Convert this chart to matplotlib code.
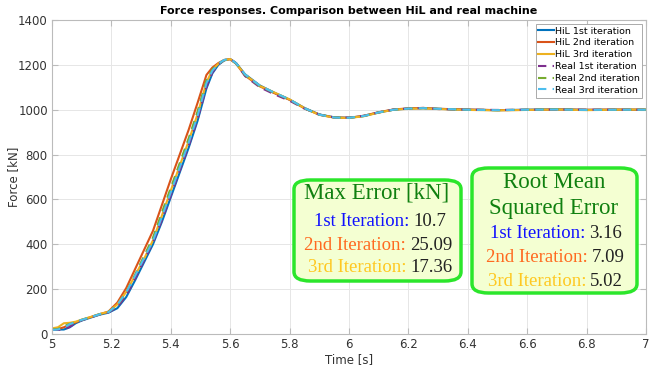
import numpy as np
import matplotlib.pyplot as plt
from matplotlib.patches import FancyBboxPatch

# time base [s]
t = [5.00, 5.02, 5.04, 5.06, 5.08, 5.10, 5.13, 5.16, 5.19, 5.22, 5.25, 5.28, 5.31,
     5.34, 5.37, 5.40, 5.43, 5.46, 5.49, 5.52, 5.54, 5.56, 5.58, 5.60, 5.62, 5.65,
     5.70, 5.75, 5.80, 5.85, 5.90, 5.95, 6.00, 6.05, 6.10, 6.15, 6.20, 6.25, 6.30,
     6.40, 6.50, 6.60, 6.70, 6.80, 6.90, 7.00]

# force responses [kN]
hil_1 = [20, 20, 20, 30, 48, 60, 73, 86, 95, 115, 165, 240, 320, 400, 500, 610, 720,
         830, 950, 1095, 1162, 1200, 1220, 1226, 1208, 1158, 1108, 1075, 1045, 1008,
         979, 966, 964, 972, 988, 1000, 1005, 1007, 1004, 1000, 998, 1000, 1002, 999,
         1000, 1000]
hil_2 = [22, 22, 30, 42, 52, 63, 75, 88, 100, 140, 205, 290, 375, 460, 575, 690, 800,
         910, 1030, 1155, 1188, 1208, 1222, 1225, 1205, 1152, 1104, 1073, 1044, 1006,
         978, 965, 964, 973, 989, 1001, 1006, 1008, 1004, 1001, 998, 999, 1001, 1000,
         1001, 1000]
hil_3 = [25, 30, 48, 50, 55, 64, 76, 89, 99, 132, 188, 262, 335, 418, 528, 640, 750,
         860, 980, 1122, 1177, 1205, 1221, 1226, 1206, 1156, 1106, 1076, 1046, 1007,
         977, 965, 963, 971, 987, 1000, 1004, 1006, 1003, 999, 997, 999, 1001, 998,
         1000, 1001]
real_1 = [18, 18, 20, 32, 50, 61, 74, 87, 96, 120, 172, 248, 328, 408, 508, 618, 728,
          838, 958, 1102, 1166, 1202, 1221, 1226, 1207, 1150, 1100, 1068, 1040, 1005,
          978, 966, 965, 973, 988, 1001, 1005, 1008, 1003, 1000, 999, 1000, 1001, 1000,
          1000, 1000]
real_2 = [20, 22, 35, 45, 53, 63, 75, 88, 98, 128, 185, 265, 348, 430, 542, 652, 762,
          872, 992, 1132, 1180, 1205, 1221, 1225, 1206, 1155, 1105, 1074, 1045, 1006,
          978, 966, 964, 972, 988, 1000, 1005, 1007, 1004, 1000, 998, 1000, 1002, 999,
          1000, 1000]
real_3 = [18, 20, 28, 44, 53, 63, 75, 88, 97, 130, 186, 260, 338, 415, 522, 632, 742,
          852, 972, 1118, 1174, 1205, 1222, 1227, 1207, 1157, 1107, 1075, 1046, 1007,
          978, 965, 964, 972, 988, 1000, 1005, 1007, 1004, 1000, 998, 1000, 1001, 999,
          1000, 1000]

labels = ['HiL 1st iteration', 'HiL 2nd iteration', 'HiL 3rd iteration',
          'Real 1st iteration', 'Real 2nd iteration', 'Real 3rd iteration']
colors = ['#0072BD', '#D95319', '#EDB120', '#7E2F8E', '#77AC30', '#4DBEEE']

max_err = ['10.7', '25.09', '17.36']
rmse = ['3.16', '7.09', '5.02']
iter_names = ['1st Iteration:', '2nd Iteration:', '3rd Iteration:']
iter_colors = ['#1010FF', '#FF6A20', '#FFC820']

W, H = 659, 367
fig = plt.figure(figsize=(W / 100, H / 100), dpi=100)
ax = fig.add_axes([52 / W, 1 - 334 / H, (646 - 52) / W, (334 - 20) / H])

series = [hil_1, hil_2, hil_3, real_1, real_2, real_3]
for i, y in enumerate(series):
    ls = '-' if i < 3 else (0, (4, 3))
    ax.plot(t, y, color=colors[i], lw=1.5, ls=ls, label=labels[i])

ax.set_xlim(5, 7)
ax.set_ylim(0, 1400)
ax.set_xticks(np.arange(5, 7.01, 0.2))
ax.set_xticklabels(['5', '5.2', '5.4', '5.6', '5.8', '6', '6.2', '6.4', '6.6', '6.8', '7'])
ax.set_yticks(range(0, 1401, 200))
ax.grid(True, color='#E6E6E6', lw=0.7)
ax.set_axisbelow(True)
for s in ax.spines.values():
    s.set_color('#BBBBBB')
ax.tick_params(direction='in', top=True, right=True, labelsize=8.5, colors='#333333',
               color='#BBBBBB', length=4, pad=3)
ax.set_xlabel('Time [s]', fontsize=8.5, color='#333333', labelpad=1)
ax.set_ylabel('Force [kN]', fontsize=8.5, color='#333333')
ax.yaxis.set_label_coords((20 - 52) / (646 - 52), 0.5)
ax.set_title('Force responses. Comparison between HiL and real machine',
             fontsize=8, fontweight='bold', pad=4)

leg = ax.legend(loc='upper right', fontsize=6.8, handlelength=1.6, handletextpad=0.1,
                labelspacing=0.3, borderpad=0.3, borderaxespad=0.4, fancybox=False,
                framealpha=1)
leg.get_frame().set_edgecolor('#AAAAAA')
leg.get_frame().set_linewidth(0.7)


def fx(px):
    return px / W


def fy(py):
    return 1 - py / H


def box(x0, y0, x1, y1):
    p = FancyBboxPatch((fx(x0), fy(y1)), fx(x1) - fx(x0), fy(y0) - fy(y1),
                       boxstyle='round,pad=0,rounding_size=0.025',
                       transform=fig.transFigure, facecolor='#F4FFD2',
                       edgecolor='#2BE62B', lw=2.5, zorder=5)
    fig.patches.append(p)


serif = 'Liberation Serif'
box(294, 180, 461, 281)
fig.text(fx(377), fy(193), 'Max Error [kN]', fontsize=16.5, family=serif,
         color='#108010', ha='center', va='center', zorder=6)
split1 = [409, 406, 406]
rows1 = [221, 245, 268]
for i in range(3):
    fig.text(fx(split1[i]), fy(rows1[i]), iter_names[i], fontsize=13.5, family=serif,
             color=iter_colors[i], ha='right', va='center', zorder=6)
    fig.text(fx(split1[i] + 4), fy(rows1[i]), max_err[i], fontsize=13.5, family=serif,
             color='#222222', ha='left', va='center', zorder=6)

box(472, 168, 637, 293)
fig.text(fx(554), fy(183), 'Root Mean', fontsize=16.5, family=serif,
         color='#108010', ha='center', va='center', zorder=6)
fig.text(fx(554), fy(208), 'Squared Error', fontsize=16.5, family=serif,
         color='#108010', ha='center', va='center', zorder=6)
split2 = [585, 588, 586]
rows2 = [233, 257, 281]
for i in range(3):
    fig.text(fx(split2[i]), fy(rows2[i]), iter_names[i], fontsize=13.5, family=serif,
             color=iter_colors[i], ha='right', va='center', zorder=6)
    fig.text(fx(split2[i] + 4), fy(rows2[i]), rmse[i], fontsize=13.5, family=serif,
             color='#222222', ha='left', va='center', zorder=6)

fig.savefig('out.png', dpi=100)
